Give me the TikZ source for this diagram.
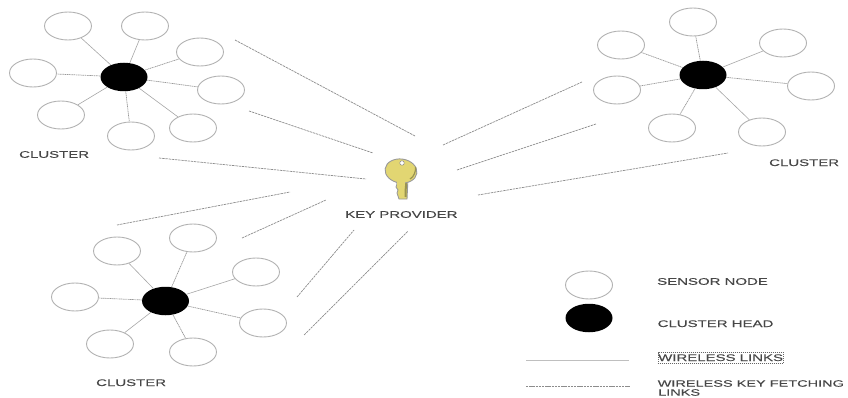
\documentclass[tikz,border=0pt]{standalone}
\usepackage{fontspec}
\setmainfont{Liberation Sans}
\newfontfamily\widefont[FakeStretch=1.56,FakeBold=0.15]{Liberation Sans}
\usetikzlibrary{shapes.geometric}
\definecolor{keyfill}{HTML}{E2D672}
\definecolor{keydark}{HTML}{9A9450}
\tikzset{
 x=1pt,y=-1pt,
 sensor/.style={ellipse,draw=black!30,line width=0.9pt,fill=white,minimum width=47pt,minimum height=28pt,inner sep=0pt},
 chead/.style={ellipse,fill=black,minimum width=47pt,minimum height=28.5pt,inner sep=0pt},
 solidlink/.style={draw=black!35,line width=0.6pt},
 dotlink/.style={draw=black!40,line width=0.7pt,dash pattern=on 1.2pt off 0.6pt},
 fetchlink/.style={draw=black!45,line width=0.7pt,dash pattern=on 2.4pt off 0.8pt},
 lbl/.style={font=\widefont\fontsize{9.6}{10}\selectfont,text=black!72,inner sep=0pt,anchor=west,align=left},
 lblsmall/.style={lbl,font=\widefont\fontsize{9.3}{10}\selectfont},
}
\begin{document}
\begin{tikzpicture}
\useasboundingbox (0,0) rectangle (848,398);
% cluster 1
\node[chead] (h1) at (124,77) {};
\node[sensor] (a1) at (68,26) {};
\node[sensor] (a2) at (145,26) {};
\node[sensor] (a3) at (200,52) {};
\node[sensor] (a4) at (221,90) {};
\node[sensor] (a5) at (193,128) {};
\node[sensor] (a6) at (131,136) {};
\node[sensor] (a7) at (61,115) {};
\node[sensor] (a8) at (33,73) {};
\foreach \n in {a1,a2,a5,a7} \draw[solidlink] (h1) -- (\n);
\foreach \n in {a3,a4,a6,a8} \draw[dotlink] (h1) -- (\n);
% cluster 2
\node[chead] (h2) at (703,75) {};
\node[sensor] (b1) at (621,45) {};
\node[sensor] (b2) at (693,22) {};
\node[sensor] (b3) at (783,43) {};
\node[sensor] (b4) at (811,86) {};
\node[sensor] (b5) at (762,132) {};
\node[sensor] (b6) at (672,128) {};
\node[sensor] (b7) at (617,90) {};
\foreach \n in {b3,b5} \draw[solidlink] (h2) -- (\n);
\foreach \n in {b1,b2,b4,b6,b7} \draw[dotlink] (h2) -- (\n);
% cluster 3
\node[chead] (h3) at (165.5,301) {};
\node[sensor] (c1) at (117,251) {};
\node[sensor] (c2) at (193,238) {};
\node[sensor] (c3) at (256,272) {};
\node[sensor] (c4) at (263,323) {};
\node[sensor] (c5) at (193,352) {};
\node[sensor] (c6) at (110,344) {};
\node[sensor] (c7) at (75,297) {};
\foreach \n in {c1,c3,c6} \draw[solidlink] (h3) -- (\n);
\foreach \n in {c2,c4,c5,c7} \draw[dotlink] (h3) -- (\n);
% fetching links
\foreach \i/\ax/\ay/\bx/\by in {1/235/40/415/136,2/249/111/373/153,3/159/158/366/179,4/443/145/582/82,5/457/170/596/124,6/478/195/728/153,7/117/225/290/192,8/242/238/326/200,9/297/297/354/230,10/304/335/408/231}{
  \coordinate (fa\i) at (\ax,\ay);
  \coordinate (fb\i) at (\bx,\by);
  \draw[fetchlink] (fa\i) -- (fb\i);
}
% key
\path[fill=keyfill,draw=black!40,line width=0.9pt]
  (396,178) -- (397,184) -- (396,187) -- (398,190) -- (397,193) -- (399,199) -- (407,199) -- (408,178) -- cycle;
\draw[keydark,line width=2pt] (406,180) -- (405.5,197);
\node[ellipse,rotate=-8,fill=keyfill,draw=black!40,line width=0.9pt,minimum width=32pt,minimum height=24pt,inner sep=0pt] (keyhead) at (401,171) {};
\fill[keyfill] (397,177) rectangle (405,186);
\draw[keydark,line width=1.2pt] (410,179) .. controls (414,177) and (416,171) .. (415.5,167);
\node[circle,fill=white,draw=black!45,line width=0.5pt,minimum size=4.5pt,inner sep=0pt] (keyhole) at (402,163) {};
% texts
\node[lbl] (t1) at (19,154.5) {CLUSTER};
\node[lbl] (t2) at (769,162.7) {CLUSTER};
\node[lbl] (t3) at (96,382.7) {CLUSTER};
\node[lbl] (t4) at (345,214.5) {KEY PROVIDER};
% legend
\node[sensor] (ls) at (589,285) {};
\node[chead] (lh) at (589,318) {};
\coordinate (l1a) at (526,360); \coordinate (l1b) at (629,360);
\coordinate (l2a) at (526,386); \coordinate (l2b) at (630,386);
\draw[solidlink,draw=black!25] (l1a) -- (l1b);
\draw[fetchlink] (l2a) -- (l2b);
\node[lbl] (t5) at (657,281.5) {SENSOR NODE};
\node[lbl] (t6) at (657.5,323.7) {CLUSTER HEAD};
\node[lbl,draw=black!60,line width=0.4pt,dash pattern=on 1pt off 1pt,inner xsep=0.5pt,inner ysep=2pt,text height=7pt,text depth=0pt] (t7) at (657.5,357.5) {WIRELESS LINKS};
\node[lblsmall] (t8) at (657.5,383.5) {WIRELESS KEY FETCHING};
\node[lblsmall] (t9) at (658,392.5) {LINKS};
\end{tikzpicture}
\end{document}
